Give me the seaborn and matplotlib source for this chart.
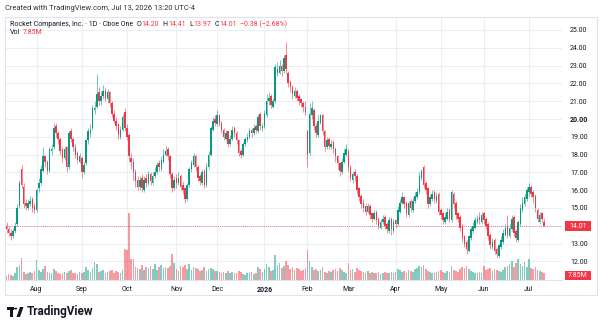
import numpy as np
import pandas as pd
import seaborn as sns
import matplotlib.pyplot as plt
from matplotlib.patches import Rectangle, Circle, Polygon
from matplotlib.lines import Line2D
import matplotlib.transforms as mtransforms

# NYSE holidays inside the window
holidays = ['2025-09-01', '2025-11-27', '2025-12-25', '2026-01-01', '2026-01-19',
            '2026-02-16', '2026-04-03', '2026-05-25', '2026-06-19', '2026-07-03']

opens = [14.0, 13.8, 13.6, 13.4, 13.7, 14.1, 15.1, 17.2, 16.2, 15.3, 15.0, 15.2, 15.5, 15.1,
         14.9, 16.1, 16.4, 17.1, 17.9, 17.6, 17.1, 18.2, 18.4, 19.6, 19.2, 18.9, 18.3, 17.8, 18.4, 17.3, 19.3, 18.9, 18.4, 18.1, 17.6,
         17.8, 17.0, 17.5, 18.8, 19.2, 19.5, 20.5, 20.7, 21.5, 21.0, 21.3, 21.6, 21.1, 21.5, 20.9, 20.3, 19.9, 19.7, 19.0, 19.4, 20.4,
         19.5, 19.1, 17.8, 17.6, 17.0, 16.6, 16.2, 16.7, 16.0, 16.7, 16.4, 16.9, 16.4, 16.8, 17.0, 17.5, 17.2, 17.6, 18.0, 18.3, 17.9, 16.9, 16.1,
         16.7, 16.4, 16.8, 16.3, 16.1, 15.5, 16.3, 17.2, 17.4, 17.9, 17.3, 16.8, 16.4, 17.1, 16.3, 17.3, 18.0, 19.4, 20.0,
         19.7, 20.2, 19.8, 19.4, 18.9, 19.3, 18.6, 18.9, 19.5, 19.2, 18.8, 18.2, 18.0, 18.6, 18.8, 19.0, 19.4, 19.2, 19.6, 19.3, 20.3, 19.5,
         19.6, 20.2, 21.0, 21.3, 20.7, 21.0, 22.6, 22.6, 23.0, 22.7, 23.6, 22.6, 22.1, 21.8, 21.3, 21.6, 21.3, 21.1, 20.9, 20.7,
         19.3, 18.1, 20.2, 20.5, 19.6, 19.1, 19.8, 20.2, 19.3, 18.4, 18.9, 18.4, 18.7, 18.3, 17.9, 17.5, 17.0, 17.6, 18.0,
         18.2, 17.3, 16.6, 17.0, 16.8, 16.1, 15.7, 15.3, 15.1, 14.8, 15.1, 14.7, 14.4, 14.8, 14.4, 13.9, 14.2, 14.5, 14.1, 13.7, 14.4, 13.7,
         14.3, 14.1, 14.8, 15.3, 15.6, 15.3, 14.6, 15.4, 14.9, 15.4, 15.6, 15.9, 16.7, 17.3, 16.4, 16.1, 15.2, 15.5, 15.9, 15.4, 15.8,
         14.9, 14.7, 14.2, 14.4, 14.9, 14.3, 15.8, 15.3, 14.7, 14.5, 14.0, 13.4, 13.1, 12.6, 13.3, 13.7, 13.9, 14.2, 14.5, 14.2,
         14.7, 14.4, 14.1, 13.5, 12.8, 13.2, 12.7, 12.3, 12.8, 13.1, 13.5, 14.0, 13.4, 13.8, 14.5, 13.7, 13.2, 14.1, 14.9, 15.2, 15.5,
         15.9, 16.2, 15.9, 15.7, 14.9, 14.2, 14.7, 14.20]

highs = [14.2, 14.0, 13.8, 13.9, 14.2, 15.2, 16.6, 17.4, 16.4, 15.5, 15.5, 15.7, 15.6, 15.3,
         16.1, 16.7, 17.4, 18.4, 18.0, 17.7, 18.4, 18.6, 19.8, 19.8, 19.3, 19.0, 18.4, 18.5, 18.5, 19.4, 19.5, 19.0, 18.6, 18.2, 18.1,
         17.9, 17.6, 18.9, 19.5, 19.7, 20.8, 21.0, 22.5, 21.8, 21.6, 21.9, 21.8, 21.7, 21.6, 21.0, 20.5, 20.1, 19.8, 19.6, 20.3, 20.6,
         19.7, 19.2, 18.1, 17.8, 17.2, 16.8, 16.8, 16.9, 16.8, 16.9, 17.1, 17.0, 17.0, 17.3, 17.6, 17.7, 17.9, 18.3, 18.5, 18.4, 18.0, 17.0, 16.8,
         16.9, 17.0, 16.9, 16.5, 16.2, 16.4, 17.3, 17.7, 18.1, 18.0, 17.4, 16.9, 17.2, 17.2, 17.5, 18.2, 19.6, 20.1, 20.2,
         20.5, 20.3, 19.9, 19.5, 19.4, 19.4, 19.1, 19.6, 19.6, 19.3, 18.9, 18.3, 18.7, 19.0, 19.2, 19.5, 19.5, 19.7, 19.7, 20.3, 20.4, 19.8,
         20.5, 21.4, 21.5, 21.4, 21.2, 23.1, 23.2, 23.3, 23.1, 23.6, 24.3, 22.7, 22.2, 21.9, 21.8, 21.7, 21.4, 21.2, 21.0, 21.0,
         19.4, 20.9, 21.0, 20.6, 19.8, 20.2, 20.3, 20.3, 19.4, 19.0, 19.0, 18.8, 18.8, 18.4, 18.0, 17.6, 17.8, 18.3, 18.6,
         18.3, 17.4, 17.1, 17.2, 16.9, 16.2, 15.8, 15.5, 15.3, 15.3, 15.2, 14.8, 14.9, 14.9, 14.5, 14.4, 14.6, 14.6, 14.2, 14.5, 14.5, 14.4,
         14.4, 15.1, 15.5, 15.9, 15.7, 15.4, 15.4, 15.5, 15.6, 15.9, 16.1, 17.0, 17.2, 17.4, 16.5, 16.2, 15.8, 16.0, 16.0, 15.9, 15.9,
         15.0, 14.8, 14.7, 15.0, 15.0, 16.0, 15.9, 15.4, 14.8, 14.6, 14.1, 13.5, 13.2, 13.5, 14.0, 14.2, 14.5, 14.6, 14.8, 14.8,
         14.8, 14.5, 14.2, 13.6, 13.3, 13.3, 12.8, 13.0, 13.4, 13.8, 14.1, 14.6, 14.1, 14.6, 14.6, 13.8, 14.3, 15.2, 15.6, 15.8, 16.2,
         16.4, 16.3, 16.0, 15.8, 15.0, 14.8, 14.8, 14.41]

lows = [13.6, 13.4, 13.2, 13.3, 13.6, 14.0, 15.0, 16.1, 15.0, 14.9, 14.9, 15.1, 14.8, 14.7,
        14.8, 15.9, 16.3, 17.0, 17.3, 16.9, 17.0, 18.0, 18.3, 19.0, 18.6, 18.0, 17.6, 17.7, 17.0, 17.2, 18.7, 18.2, 17.8, 17.5, 17.5,
        16.7, 16.9, 17.4, 18.6, 19.0, 19.4, 20.3, 20.6, 20.8, 20.8, 21.1, 21.0, 20.9, 20.7, 20.1, 19.8, 19.4, 18.9, 18.9, 19.3, 19.3,
        18.8, 17.6, 17.2, 16.6, 16.2, 16.0, 16.0, 15.9, 15.9, 16.2, 16.3, 16.3, 16.3, 16.7, 16.9, 17.1, 17.1, 17.5, 17.9, 17.7, 16.7, 15.9, 16.0,
        16.1, 16.3, 16.0, 15.8, 15.3, 15.4, 16.2, 17.0, 17.3, 17.1, 16.5, 16.3, 16.3, 16.1, 16.2, 17.2, 17.9, 19.3, 19.6,
        19.6, 19.6, 19.2, 18.8, 18.8, 18.4, 18.5, 18.8, 19.0, 18.6, 17.9, 17.8, 17.9, 18.5, 18.7, 18.9, 19.0, 19.1, 19.2, 19.2, 19.4, 19.3,
        19.5, 20.1, 20.8, 20.6, 20.6, 20.9, 22.4, 22.5, 22.4, 22.6, 22.6, 21.8, 21.5, 21.1, 21.2, 21.0, 20.8, 20.7, 20.4, 20.2,
        17.3, 18.0, 20.0, 19.4, 19.0, 19.0, 19.7, 19.1, 18.2, 18.3, 18.3, 18.3, 18.1, 17.6, 17.2, 16.8, 16.9, 17.5, 17.9,
        17.0, 16.5, 16.4, 16.5, 15.8, 15.4, 15.0, 14.8, 14.6, 14.7, 14.4, 14.2, 14.3, 14.1, 13.8, 13.8, 14.1, 13.8, 13.6, 13.6, 13.5, 13.6,
        13.9, 14.0, 14.7, 15.2, 15.0, 14.5, 14.5, 14.8, 14.8, 15.3, 15.5, 15.8, 16.6, 16.1, 15.8, 15.0, 15.1, 15.4, 15.3, 15.3, 14.6,
        14.4, 14.1, 14.1, 14.3, 14.2, 14.2, 15.0, 14.4, 14.2, 13.7, 13.1, 12.8, 12.4, 12.5, 13.2, 13.6, 13.8, 14.1, 14.1, 14.1,
        14.1, 13.8, 13.2, 12.7, 12.7, 12.4, 12.2, 12.2, 12.7, 13.0, 13.4, 13.3, 13.3, 13.7, 13.4, 13.1, 13.1, 14.0, 14.8, 15.1, 15.4,
        15.7, 15.6, 15.3, 14.8, 14.2, 14.1, 14.2, 13.97]

closes = [13.8, 13.6, 13.4, 13.7, 14.0, 15.0, 16.4, 16.3, 15.2, 15.1, 15.3, 15.4, 15.0, 14.9,
          16.0, 16.4, 17.2, 17.9, 17.6, 17.1, 18.3, 18.3, 19.5, 19.2, 18.9, 18.2, 17.8, 18.3, 17.3, 19.2, 18.9, 18.4, 18.0, 17.7, 17.9,
          17.0, 17.4, 18.8, 19.3, 19.4, 20.6, 20.6, 21.4, 21.0, 21.3, 21.6, 21.2, 21.5, 20.9, 20.3, 19.9, 19.6, 19.1, 19.4, 20.1, 19.5,
          19.0, 17.9, 17.6, 17.0, 16.5, 16.2, 16.6, 16.1, 16.6, 16.4, 16.9, 16.5, 16.8, 17.0, 17.4, 17.3, 17.7, 18.0, 18.2, 17.9, 16.9, 16.1, 16.6,
          16.4, 16.7, 16.2, 16.0, 15.5, 16.3, 17.2, 17.5, 17.9, 17.3, 16.7, 16.5, 17.0, 16.3, 17.3, 18.0, 19.5, 19.9, 19.8,
          20.2, 19.8, 19.4, 19.0, 19.2, 18.6, 18.9, 19.4, 19.2, 18.8, 18.1, 18.0, 18.6, 18.9, 19.0, 19.3, 19.2, 19.5, 19.4, 20.1, 19.6, 19.6,
          20.3, 21.0, 21.2, 20.8, 21.0, 22.9, 22.8, 23.0, 22.7, 23.4, 22.8, 22.0, 21.8, 21.4, 21.6, 21.2, 21.0, 20.9, 20.7, 20.4,
          18.0, 20.3, 20.6, 19.6, 19.2, 19.9, 20.2, 19.3, 18.4, 18.8, 18.5, 18.6, 18.3, 17.9, 17.5, 17.1, 17.6, 18.1, 18.3,
          17.3, 16.7, 16.9, 16.8, 16.0, 15.6, 15.2, 15.0, 14.8, 15.1, 14.6, 14.4, 14.7, 14.3, 14.0, 14.2, 14.4, 14.0, 13.8, 14.3, 13.8, 14.2,
          14.1, 14.9, 15.3, 15.6, 15.2, 14.7, 15.3, 15.0, 15.4, 15.7, 15.9, 16.8, 17.1, 16.3, 16.0, 15.2, 15.6, 15.8, 15.5, 15.7, 14.8,
          14.6, 14.3, 14.5, 14.8, 14.4, 15.9, 15.2, 14.6, 14.4, 13.9, 13.3, 13.0, 12.7, 13.4, 13.8, 14.0, 14.3, 14.4, 14.3, 14.6,
          14.3, 14.0, 13.4, 12.9, 13.1, 12.6, 12.4, 12.9, 13.2, 13.6, 13.9, 13.5, 13.9, 14.4, 13.6, 13.3, 14.2, 15.0, 15.3, 15.6, 16.0,
          16.2, 15.8, 15.6, 15.0, 14.4, 14.6, 14.4, 14.01]

# volume in millions
volumes = [4, 6, 5, 4, 7, 14, 16, 24, 9, 6, 7, 9, 8, 10,
           21, 11, 9, 12, 15, 9, 7, 8, 12, 10, 8, 6, 7, 9, 8, 10, 11, 7, 8, 6, 9,
           7, 9, 14, 11, 9, 13, 19, 17, 9, 10, 11, 8, 9, 10, 11, 8, 10, 9, 8, 11, 33,
           32, 72, 22, 22, 14, 13, 12, 16, 11, 14, 13, 15, 12, 17, 11, 14, 16, 13, 14, 13, 15, 28, 18,
           12, 10, 15, 14, 16, 12, 17, 11, 14, 13, 12, 10, 11, 14, 10, 12, 13, 12, 10,
           10, 9, 8, 9, 8, 10, 8, 9, 7, 8, 10, 9, 6, 5, 7, 8, 9, 6, 8, 14, 12, 9,
           12, 17, 14, 10, 11, 27, 16, 18, 13, 15, 20, 16, 12, 14, 11, 13, 12, 10, 11, 13,
           32, 20, 14, 11, 12, 10, 11, 14, 9, 8, 10, 9, 11, 12, 10, 13, 11, 9, 8,
           18, 11, 12, 9, 13, 11, 10, 9, 8, 10, 8, 9, 7, 8, 9, 6, 7, 9, 8, 7, 9, 8,
           9, 12, 11, 9, 10, 8, 11, 10, 9, 12, 13, 15, 14, 16, 12, 10, 9, 8, 7, 9, 10,
           11, 9, 8, 10, 9, 15, 11, 10, 9, 12, 14, 13, 15, 12, 10, 9, 8, 7, 9, 8,
           15, 11, 12, 13, 10, 12, 11, 10, 9, 11, 14, 15, 17, 20, 14, 18, 22, 17, 15, 19, 14,
           23, 13, 12, 14, 11, 10, 9, 7.85]

price_ticks = list(range(12, 26))
month_names = {8: 'Aug', 9: 'Sep', 10: 'Oct', 11: 'Nov', 12: 'Dec', 1: '2026', 2: 'Feb',
               3: 'Mar', 4: 'Apr', 5: 'May', 6: 'Jun', 7: 'Jul'}

sns.set_theme(style='white')
plt.rcParams['font.family'] = ['Roboto', 'DejaVu Sans']

dates = pd.bdate_range('2025-07-14', '2026-07-13', freq='C', holidays=holidays)
df = pd.DataFrame({'date': dates, 'open': opens, 'high': highs, 'low': lows,
                   'close': closes, 'volume': volumes})
df['idx'] = np.arange(len(df))
df['dir'] = np.where(df['close'] >= df['open'], 'up', 'down')

UP, DOWN = '#089981', '#F23645'
TXT = '#131722'
GRID = '#eceef2'
W, H = 600, 328


def rect(x0, y0, x1, y1):
    return [x0 / W, 1 - y1 / H, (x1 - x0) / W, (y1 - y0) / H]


fig = plt.figure(figsize=(6, 3.28), dpi=100)
pane = rect(5, 17, 562, 280)
axv = fig.add_axes(pane)
ax = fig.add_axes(pane, sharex=axv)
ax.patch.set_alpha(0)

# volume bars underneath
sns.barplot(data=df, x='idx', y='volume', hue='dir', palette={'up': UP, 'down': DOWN},
            native_scale=True, dodge=False, width=0.75, errorbar=None, legend=False,
            saturation=1, alpha=0.5, linewidth=0, ax=axv)
axv.set_ylim(0, 282)
axv.set_xlabel('')
axv.set_ylabel('')
axv.set_yticks([])
axv.tick_params(axis='x', bottom=False, labelbottom=False)
for s in axv.spines.values():
    s.set_visible(False)

# month starts
month_start = df.groupby([df['date'].dt.year, df['date'].dt.month])['idx'].min()
month_start = month_start[month_start > 0]
mlabels = [month_names[m] for (_, m) in month_start.index]

# grid (behind everything)
for x in month_start.values:
    axv.axvline(x, color=GRID, lw=0.8, zorder=0)
blend = mtransforms.blended_transform_factory(axv.transAxes, ax.transData)
for p in price_ticks:
    axv.add_line(Line2D([0, 1], [p, p], transform=blend, color=GRID, lw=0.8, zorder=0))

# candles
cols = np.where(df['dir'] == 'up', UP, DOWN)
ax.vlines(df['idx'], df['low'], df['high'], colors=cols, lw=0.6, alpha=0.65, zorder=2)
body_lo = np.minimum(df['open'], df['close'])
body_h = np.maximum(np.abs(df['close'] - df['open']), 0.04)
ax.bar(df['idx'], body_h, bottom=body_lo, width=0.7, color=cols, linewidth=0, zorder=3)

ax.axhline(14.01, color=DOWN, lw=0.6, ls=(0, (1, 1.5)), alpha=0.8, zorder=1)

ax.set_xlim((5 - 6.5) / 2.15, (562 - 6.5) / 2.15)
ax.set_ylim(10.955, 25.73)

ax.yaxis.tick_right()
ax.set_yticks(price_ticks)
ax.set_yticklabels([f'{p:.2f}' for p in price_ticks])
ax.tick_params(axis='y', length=0, pad=5.8, labelsize=5, labelcolor=TXT)
for lab, p in zip(ax.get_yticklabels(), price_ticks):
    if p == 20:
        lab.set_fontweight('bold')

ax.set_xticks(month_start.values)
ax.set_xticklabels(mlabels)
ax.tick_params(axis='x', length=0, pad=4, labelsize=5, labelcolor=TXT)
for lab in ax.get_xticklabels():
    if lab.get_text() == '2026':
        lab.set_fontweight('bold')
for k, s in ax.spines.items():
    s.set_visible(k == 'bottom')
ax.spines['bottom'].set_color('#e0e3eb')
ax.spines['bottom'].set_linewidth(0.8)

# last price / last volume tags
fig.patches.append(Rectangle((565 / W, 1 - 231 / H), 26 / W, 10 / H, transform=fig.transFigure,
                             fc=DOWN, ec='none'))
fig.text(578 / W, 1 - 226 / H, '14.01', color='white', fontsize=5, ha='center', va='center')
fig.patches.append(Rectangle((565 / W, 1 - 280 / H), 26 / W, 9 / H, transform=fig.transFigure,
                             fc=DOWN, ec='none'))
fig.text(578 / W, 1 - 275.5 / H, '7.85M', color='white', fontsize=5, ha='center', va='center')

# outer frame
fig.patches.append(Rectangle((5 / W, 1 - 295 / H), 592 / W, 278 / H, transform=fig.transFigure,
                             fc='none', ec='#e0e3eb', lw=0.8))

# header texts, placed one after another so they never overlap
FS = 5.0
renderer = fig.canvas.get_renderer()


def text_run(x, y, pieces):
    for s, color, gap in pieces:
        x += gap
        t = fig.text(x / W, 1 - y / H, s, fontsize=FS, color=color, va='center')
        x = t.get_window_extent(renderer).x1


fig.text(5 / W, 1 - 8 / H, 'Created with TradingView.com, Jul 13, 2026 13:20 UTC-4',
         fontsize=5.4, color='#2a2e39', va='center')
text_run(10, 24, [('Rocket Companies, Inc. · 1D · Cboe One', TXT, 0),
                  ('O', TXT, 3.5), ('14.20', DOWN, 0.3),
                  ('H', TXT, 3.5), ('14.41', DOWN, 0.3),
                  ('L', TXT, 3.5), ('13.97', DOWN, 0.3),
                  ('C', TXT, 3.5), ('14.01', DOWN, 0.3),
                  ('−0.38 (−2.68%)', DOWN, 3.5)])
text_run(10, 32, [('Vol', TXT, 0), ('7.85M', DOWN, 2.5)])

# TradingView logo
logo = [Rectangle((7 / W, 1 - 310 / H), 6.5 / W, 3 / H),
        Rectangle((10 / W, 1 - 317 / H), 3 / W, 10 / H),
        Circle((15.6 / W, 1 - 308.6 / H), 1.6 / W),
        Polygon([(16.5 / W, 1 - 317 / H), (20 / W, 1 - 307 / H), (23.5 / W, 1 - 307 / H),
                 (20 / W, 1 - 317 / H)], closed=True)]
for p in logo:
    p.set_transform(fig.transFigure)
    p.set_facecolor(TXT)
    p.set_edgecolor('none')
    fig.patches.append(p)
fig.text(27 / W, 1 - 312 / H, 'TradingView', fontsize=8.5, fontweight='bold', color=TXT, va='center')

fig.savefig('out.png', dpi=100)
